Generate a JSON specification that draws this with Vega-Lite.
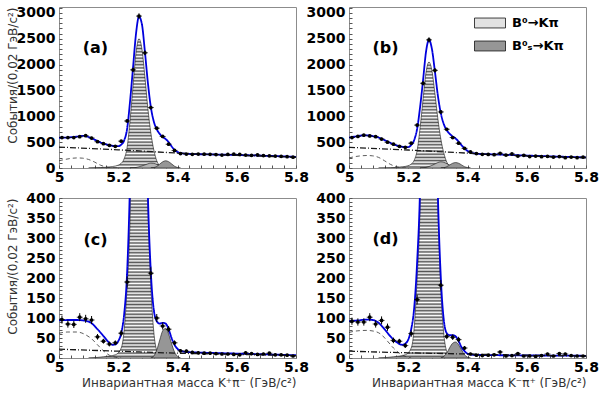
{
"$schema": "https://vega.github.io/schema/vega-lite/v6.json",
"padding": {"left": 5, "top": 5, "right": 5, "bottom": 3},
"background": "white",
"columns": 2,
"spacing": {"row": 30, "column": 53},
"bounds": "flush",
"datasets": {
"pts": [
{"p":"a","m":5.01,"v":590,"e":24},{"p":"a","m":5.03,"v":590,"e":24},{"p":"a","m":5.05,"v":590,"e":24},{"p":"a","m":5.07,"v":605,"e":25},{"p":"a","m":5.09,"v":625,"e":25},{"p":"a","m":5.11,"v":580,"e":24},{"p":"a","m":5.13,"v":510,"e":23},{"p":"a","m":5.15,"v":470,"e":22},{"p":"a","m":5.17,"v":440,"e":21},{"p":"a","m":5.19,"v":420,"e":20},{"p":"a","m":5.21,"v":520,"e":23},{"p":"a","m":5.23,"v":910,"e":30},{"p":"a","m":5.25,"v":1900,"e":44},{"p":"a","m":5.27,"v":2940,"e":54},{"p":"a","m":5.29,"v":2230,"e":47},{"p":"a","m":5.31,"v":1170,"e":34},{"p":"a","m":5.33,"v":770,"e":28},{"p":"a","m":5.35,"v":610,"e":25},{"p":"a","m":5.37,"v":460,"e":21},{"p":"a","m":5.39,"v":340,"e":18},{"p":"a","m":5.41,"v":280,"e":17},{"p":"a","m":5.43,"v":270,"e":16},{"p":"a","m":5.45,"v":265,"e":16},{"p":"a","m":5.47,"v":270,"e":16},{"p":"a","m":5.49,"v":268,"e":16},{"p":"a","m":5.51,"v":265,"e":16},{"p":"a","m":5.53,"v":260,"e":16},{"p":"a","m":5.55,"v":250,"e":16},{"p":"a","m":5.57,"v":262,"e":16},{"p":"a","m":5.59,"v":268,"e":16},{"p":"a","m":5.61,"v":262,"e":16},{"p":"a","m":5.63,"v":250,"e":16},{"p":"a","m":5.65,"v":245,"e":16},{"p":"a","m":5.67,"v":255,"e":16},{"p":"a","m":5.69,"v":240,"e":15},{"p":"a","m":5.71,"v":235,"e":15},{"p":"a","m":5.73,"v":232,"e":15},{"p":"a","m":5.75,"v":225,"e":15},{"p":"a","m":5.77,"v":220,"e":15},{"p":"a","m":5.79,"v":210,"e":14},
{"p":"b","m":5.01,"v":590,"e":24},{"p":"b","m":5.03,"v":610,"e":25},{"p":"b","m":5.05,"v":635,"e":25},{"p":"b","m":5.07,"v":620,"e":25},{"p":"b","m":5.09,"v":605,"e":25},{"p":"b","m":5.11,"v":560,"e":24},{"p":"b","m":5.13,"v":500,"e":22},{"p":"b","m":5.15,"v":460,"e":21},{"p":"b","m":5.17,"v":420,"e":20},{"p":"b","m":5.19,"v":400,"e":20},{"p":"b","m":5.21,"v":480,"e":22},{"p":"b","m":5.23,"v":830,"e":29},{"p":"b","m":5.25,"v":1640,"e":40},{"p":"b","m":5.27,"v":2480,"e":50},{"p":"b","m":5.29,"v":1890,"e":43},{"p":"b","m":5.31,"v":1085,"e":33},{"p":"b","m":5.33,"v":750,"e":27},{"p":"b","m":5.35,"v":590,"e":24},{"p":"b","m":5.37,"v":480,"e":22},{"p":"b","m":5.39,"v":380,"e":19},{"p":"b","m":5.41,"v":310,"e":18},{"p":"b","m":5.43,"v":280,"e":17},{"p":"b","m":5.45,"v":265,"e":16},{"p":"b","m":5.47,"v":262,"e":16},{"p":"b","m":5.49,"v":258,"e":16},{"p":"b","m":5.51,"v":285,"e":17},{"p":"b","m":5.53,"v":250,"e":16},{"p":"b","m":5.55,"v":272,"e":16},{"p":"b","m":5.57,"v":232,"e":15},{"p":"b","m":5.59,"v":245,"e":16},{"p":"b","m":5.61,"v":222,"e":15},{"p":"b","m":5.63,"v":232,"e":15},{"p":"b","m":5.65,"v":220,"e":15},{"p":"b","m":5.67,"v":225,"e":15},{"p":"b","m":5.69,"v":212,"e":15},{"p":"b","m":5.71,"v":222,"e":15},{"p":"b","m":5.73,"v":200,"e":14},{"p":"b","m":5.75,"v":212,"e":15},{"p":"b","m":5.77,"v":200,"e":14},{"p":"b","m":5.79,"v":212,"e":15},
{"p":"c","m":5.01,"v":96,"e":10},{"p":"c","m":5.03,"v":85,"e":9},{"p":"c","m":5.05,"v":84,"e":9},{"p":"c","m":5.07,"v":102,"e":10},{"p":"c","m":5.09,"v":98,"e":10},{"p":"c","m":5.11,"v":95,"e":10},{"p":"c","m":5.13,"v":53,"e":7},{"p":"c","m":5.15,"v":42,"e":6},{"p":"c","m":5.17,"v":35,"e":6},{"p":"c","m":5.19,"v":38,"e":6},{"p":"c","m":5.21,"v":62,"e":8},{"p":"c","m":5.23,"v":190,"e":14},{"p":"c","m":5.25,"v":1000,"e":32},{"p":"c","m":5.27,"v":1450,"e":38},{"p":"c","m":5.29,"v":950,"e":31},{"p":"c","m":5.31,"v":212,"e":15},{"p":"c","m":5.33,"v":100,"e":10},{"p":"c","m":5.35,"v":80,"e":9},{"p":"c","m":5.37,"v":72,"e":8},{"p":"c","m":5.39,"v":38,"e":6},{"p":"c","m":5.41,"v":18,"e":4},{"p":"c","m":5.43,"v":17,"e":4},{"p":"c","m":5.45,"v":14,"e":4},{"p":"c","m":5.47,"v":13,"e":4},{"p":"c","m":5.49,"v":12,"e":3},{"p":"c","m":5.51,"v":12,"e":3},{"p":"c","m":5.53,"v":11,"e":3},{"p":"c","m":5.55,"v":10,"e":3},{"p":"c","m":5.57,"v":10,"e":3},{"p":"c","m":5.59,"v":9,"e":3},{"p":"c","m":5.61,"v":8,"e":3},{"p":"c","m":5.63,"v":13,"e":4},{"p":"c","m":5.65,"v":11,"e":3},{"p":"c","m":5.67,"v":9,"e":3},{"p":"c","m":5.69,"v":10,"e":3},{"p":"c","m":5.71,"v":12,"e":3},{"p":"c","m":5.73,"v":8,"e":3},{"p":"c","m":5.75,"v":8,"e":3},{"p":"c","m":5.77,"v":7,"e":3},{"p":"c","m":5.79,"v":5,"e":2},
{"p":"d","m":5.01,"v":92,"e":9},{"p":"d","m":5.03,"v":90,"e":9},{"p":"d","m":5.05,"v":90,"e":9},{"p":"d","m":5.07,"v":102,"e":10},{"p":"d","m":5.09,"v":85,"e":9},{"p":"d","m":5.11,"v":94,"e":10},{"p":"d","m":5.13,"v":77,"e":9},{"p":"d","m":5.15,"v":44,"e":7},{"p":"d","m":5.17,"v":42,"e":6},{"p":"d","m":5.19,"v":31,"e":6},{"p":"d","m":5.21,"v":61,"e":8},{"p":"d","m":5.23,"v":146,"e":12},{"p":"d","m":5.25,"v":800,"e":28},{"p":"d","m":5.27,"v":1350,"e":37},{"p":"d","m":5.29,"v":900,"e":30},{"p":"d","m":5.31,"v":182,"e":13},{"p":"d","m":5.33,"v":54,"e":7},{"p":"d","m":5.35,"v":52,"e":7},{"p":"d","m":5.37,"v":46,"e":7},{"p":"d","m":5.39,"v":25,"e":5},{"p":"d","m":5.41,"v":10,"e":3},{"p":"d","m":5.43,"v":7,"e":3},{"p":"d","m":5.45,"v":6,"e":2},{"p":"d","m":5.47,"v":7,"e":3},{"p":"d","m":5.49,"v":8,"e":3},{"p":"d","m":5.51,"v":15,"e":4},{"p":"d","m":5.53,"v":5,"e":2},{"p":"d","m":5.55,"v":6,"e":2},{"p":"d","m":5.57,"v":11,"e":3},{"p":"d","m":5.59,"v":5,"e":2},{"p":"d","m":5.61,"v":5,"e":2},{"p":"d","m":5.63,"v":4,"e":2},{"p":"d","m":5.65,"v":6,"e":2},{"p":"d","m":5.67,"v":10,"e":3},{"p":"d","m":5.69,"v":5,"e":2},{"p":"d","m":5.71,"v":11,"e":3},{"p":"d","m":5.73,"v":10,"e":3},{"p":"d","m":5.75,"v":6,"e":2},{"p":"d","m":5.77,"v":5,"e":2},{"p":"d","m":5.79,"v":5,"e":2}
],
"cur": [
{"p":"a","c":"fit","m":5.00,"v":585},{"p":"a","c":"fit","m":5.02,"v":588},{"p":"a","c":"fit","m":5.04,"v":595},{"p":"a","c":"fit","m":5.06,"v":608},{"p":"a","c":"fit","m":5.08,"v":622},{"p":"a","c":"fit","m":5.10,"v":600},{"p":"a","c":"fit","m":5.12,"v":550},{"p":"a","c":"fit","m":5.14,"v":495},{"p":"a","c":"fit","m":5.16,"v":458},{"p":"a","c":"fit","m":5.18,"v":430},{"p":"a","c":"fit","m":5.20,"v":422},{"p":"a","c":"fit","m":5.21,"v":452},{"p":"a","c":"fit","m":5.22,"v":535},{"p":"a","c":"fit","m":5.23,"v":760},{"p":"a","c":"fit","m":5.24,"v":1300},{"p":"a","c":"fit","m":5.25,"v":1950},{"p":"a","c":"fit","m":5.26,"v":2600},{"p":"a","c":"fit","m":5.27,"v":2930},{"p":"a","c":"fit","m":5.28,"v":2780},{"p":"a","c":"fit","m":5.29,"v":2250},{"p":"a","c":"fit","m":5.30,"v":1650},{"p":"a","c":"fit","m":5.31,"v":1180},{"p":"a","c":"fit","m":5.32,"v":900},{"p":"a","c":"fit","m":5.33,"v":750},{"p":"a","c":"fit","m":5.34,"v":660},{"p":"a","c":"fit","m":5.35,"v":600},{"p":"a","c":"fit","m":5.36,"v":560},{"p":"a","c":"fit","m":5.37,"v":500},{"p":"a","c":"fit","m":5.38,"v":420},{"p":"a","c":"fit","m":5.39,"v":350},{"p":"a","c":"fit","m":5.40,"v":310},{"p":"a","c":"fit","m":5.41,"v":290},{"p":"a","c":"fit","m":5.42,"v":280},{"p":"a","c":"fit","m":5.45,"v":270},{"p":"a","c":"fit","m":5.50,"v":264},{"p":"a","c":"fit","m":5.55,"v":258},{"p":"a","c":"fit","m":5.60,"v":252},{"p":"a","c":"fit","m":5.65,"v":245},{"p":"a","c":"fit","m":5.70,"v":236},{"p":"a","c":"fit","m":5.75,"v":226},{"p":"a","c":"fit","m":5.80,"v":215},
{"p":"a","c":"comb","m":5.0,"v":405},{"p":"a","c":"comb","m":5.2,"v":352},{"p":"a","c":"comb","m":5.4,"v":290},{"p":"a","c":"comb","m":5.6,"v":245},{"p":"a","c":"comb","m":5.8,"v":208},
{"p":"a","c":"part","m":5.00,"v":140},{"p":"a","c":"part","m":5.02,"v":165},{"p":"a","c":"part","m":5.04,"v":185},{"p":"a","c":"part","m":5.06,"v":195},{"p":"a","c":"part","m":5.08,"v":190},{"p":"a","c":"part","m":5.10,"v":165},{"p":"a","c":"part","m":5.12,"v":115},{"p":"a","c":"part","m":5.14,"v":55},{"p":"a","c":"part","m":5.16,"v":18},{"p":"a","c":"part","m":5.18,"v":3},{"p":"a","c":"part","m":5.20,"v":0},
{"p":"a","c":"b0","m":5.10,"v":0},{"p":"a","c":"b0","m":5.14,"v":8},{"p":"a","c":"b0","m":5.18,"v":28},{"p":"a","c":"b0","m":5.20,"v":55},{"p":"a","c":"b0","m":5.21,"v":90},{"p":"a","c":"b0","m":5.22,"v":180},{"p":"a","c":"b0","m":5.23,"v":400},{"p":"a","c":"b0","m":5.24,"v":930},{"p":"a","c":"b0","m":5.25,"v":1590},{"p":"a","c":"b0","m":5.26,"v":2230},{"p":"a","c":"b0","m":5.27,"v":2500},{"p":"a","c":"b0","m":5.28,"v":2300},{"p":"a","c":"b0","m":5.29,"v":1760},{"p":"a","c":"b0","m":5.30,"v":1150},{"p":"a","c":"b0","m":5.31,"v":680},{"p":"a","c":"b0","m":5.32,"v":350},{"p":"a","c":"b0","m":5.33,"v":140},{"p":"a","c":"b0","m":5.34,"v":45},{"p":"a","c":"b0","m":5.35,"v":12},{"p":"a","c":"b0","m":5.36,"v":2},{"p":"a","c":"b0","m":5.37,"v":0},
{"p":"a","c":"oth","m":5.24,"v":0},{"p":"a","c":"oth","m":5.26,"v":10},{"p":"a","c":"oth","m":5.28,"v":40},{"p":"a","c":"oth","m":5.30,"v":80},{"p":"a","c":"oth","m":5.31,"v":95},{"p":"a","c":"oth","m":5.32,"v":90},{"p":"a","c":"oth","m":5.33,"v":70},{"p":"a","c":"oth","m":5.34,"v":45},{"p":"a","c":"oth","m":5.35,"v":22},{"p":"a","c":"oth","m":5.36,"v":8},{"p":"a","c":"oth","m":5.37,"v":0},
{"p":"a","c":"bs","m":5.31,"v":0},{"p":"a","c":"bs","m":5.32,"v":8},{"p":"a","c":"bs","m":5.33,"v":30},{"p":"a","c":"bs","m":5.34,"v":75},{"p":"a","c":"bs","m":5.35,"v":120},{"p":"a","c":"bs","m":5.36,"v":140},{"p":"a","c":"bs","m":5.37,"v":122},{"p":"a","c":"bs","m":5.38,"v":80},{"p":"a","c":"bs","m":5.39,"v":35},{"p":"a","c":"bs","m":5.40,"v":10},{"p":"a","c":"bs","m":5.41,"v":0},
{"p":"b","c":"fit","m":5.00,"v":588},{"p":"b","c":"fit","m":5.02,"v":608},{"p":"b","c":"fit","m":5.04,"v":628},{"p":"b","c":"fit","m":5.06,"v":632},{"p":"b","c":"fit","m":5.08,"v":618},{"p":"b","c":"fit","m":5.10,"v":590},{"p":"b","c":"fit","m":5.12,"v":540},{"p":"b","c":"fit","m":5.14,"v":485},{"p":"b","c":"fit","m":5.16,"v":440},{"p":"b","c":"fit","m":5.18,"v":410},{"p":"b","c":"fit","m":5.20,"v":405},{"p":"b","c":"fit","m":5.21,"v":445},{"p":"b","c":"fit","m":5.22,"v":540},{"p":"b","c":"fit","m":5.23,"v":760},{"p":"b","c":"fit","m":5.24,"v":1180},{"p":"b","c":"fit","m":5.25,"v":1700},{"p":"b","c":"fit","m":5.26,"v":2250},{"p":"b","c":"fit","m":5.27,"v":2480},{"p":"b","c":"fit","m":5.28,"v":2300},{"p":"b","c":"fit","m":5.29,"v":1870},{"p":"b","c":"fit","m":5.30,"v":1400},{"p":"b","c":"fit","m":5.31,"v":1060},{"p":"b","c":"fit","m":5.32,"v":850},{"p":"b","c":"fit","m":5.33,"v":730},{"p":"b","c":"fit","m":5.34,"v":660},{"p":"b","c":"fit","m":5.35,"v":610},{"p":"b","c":"fit","m":5.36,"v":570},{"p":"b","c":"fit","m":5.37,"v":510},{"p":"b","c":"fit","m":5.38,"v":440},{"p":"b","c":"fit","m":5.39,"v":380},{"p":"b","c":"fit","m":5.40,"v":330},{"p":"b","c":"fit","m":5.41,"v":300},{"p":"b","c":"fit","m":5.42,"v":285},{"p":"b","c":"fit","m":5.45,"v":272},{"p":"b","c":"fit","m":5.50,"v":262},{"p":"b","c":"fit","m":5.55,"v":252},{"p":"b","c":"fit","m":5.60,"v":241},{"p":"b","c":"fit","m":5.65,"v":231},{"p":"b","c":"fit","m":5.70,"v":222},{"p":"b","c":"fit","m":5.75,"v":213},{"p":"b","c":"fit","m":5.80,"v":205},
{"p":"b","c":"comb","m":5.0,"v":400},{"p":"b","c":"comb","m":5.2,"v":348},{"p":"b","c":"comb","m":5.4,"v":288},{"p":"b","c":"comb","m":5.6,"v":236},{"p":"b","c":"comb","m":5.8,"v":198},
{"p":"b","c":"part","m":5.00,"v":195},{"p":"b","c":"part","m":5.02,"v":220},{"p":"b","c":"part","m":5.04,"v":235},{"p":"b","c":"part","m":5.06,"v":242},{"p":"b","c":"part","m":5.08,"v":235},{"p":"b","c":"part","m":5.10,"v":205},{"p":"b","c":"part","m":5.12,"v":140},{"p":"b","c":"part","m":5.14,"v":70},{"p":"b","c":"part","m":5.16,"v":25},{"p":"b","c":"part","m":5.18,"v":5},{"p":"b","c":"part","m":5.20,"v":0},
{"p":"b","c":"b0","m":5.10,"v":0},{"p":"b","c":"b0","m":5.14,"v":6},{"p":"b","c":"b0","m":5.18,"v":23},{"p":"b","c":"b0","m":5.20,"v":45},{"p":"b","c":"b0","m":5.21,"v":75},{"p":"b","c":"b0","m":5.22,"v":150},{"p":"b","c":"b0","m":5.23,"v":340},{"p":"b","c":"b0","m":5.24,"v":780},{"p":"b","c":"b0","m":5.25,"v":1330},{"p":"b","c":"b0","m":5.26,"v":1850},{"p":"b","c":"b0","m":5.27,"v":2050},{"p":"b","c":"b0","m":5.28,"v":1880},{"p":"b","c":"b0","m":5.29,"v":1440},{"p":"b","c":"b0","m":5.30,"v":950},{"p":"b","c":"b0","m":5.31,"v":560},{"p":"b","c":"b0","m":5.32,"v":290},{"p":"b","c":"b0","m":5.33,"v":115},{"p":"b","c":"b0","m":5.34,"v":38},{"p":"b","c":"b0","m":5.35,"v":10},{"p":"b","c":"b0","m":5.36,"v":2},{"p":"b","c":"b0","m":5.37,"v":0},
{"p":"b","c":"oth","m":5.24,"v":0},{"p":"b","c":"oth","m":5.26,"v":12},{"p":"b","c":"oth","m":5.28,"v":50},{"p":"b","c":"oth","m":5.30,"v":105},{"p":"b","c":"oth","m":5.31,"v":120},{"p":"b","c":"oth","m":5.32,"v":110},{"p":"b","c":"oth","m":5.33,"v":85},{"p":"b","c":"oth","m":5.34,"v":55},{"p":"b","c":"oth","m":5.35,"v":25},{"p":"b","c":"oth","m":5.36,"v":8},{"p":"b","c":"oth","m":5.37,"v":0},
{"p":"b","c":"bs","m":5.31,"v":0},{"p":"b","c":"bs","m":5.32,"v":6},{"p":"b","c":"bs","m":5.33,"v":25},{"p":"b","c":"bs","m":5.34,"v":60},{"p":"b","c":"bs","m":5.35,"v":92},{"p":"b","c":"bs","m":5.36,"v":105},{"p":"b","c":"bs","m":5.37,"v":92},{"p":"b","c":"bs","m":5.38,"v":60},{"p":"b","c":"bs","m":5.39,"v":26},{"p":"b","c":"bs","m":5.40,"v":8},{"p":"b","c":"bs","m":5.41,"v":0},
{"p":"c","c":"fit","m":5.00,"v":94},{"p":"c","c":"fit","m":5.03,"v":95},{"p":"c","c":"fit","m":5.06,"v":95},{"p":"c","c":"fit","m":5.09,"v":93},{"p":"c","c":"fit","m":5.11,"v":87},{"p":"c","c":"fit","m":5.13,"v":72},{"p":"c","c":"fit","m":5.15,"v":55},{"p":"c","c":"fit","m":5.17,"v":38},{"p":"c","c":"fit","m":5.18,"v":33},{"p":"c","c":"fit","m":5.19,"v":34},{"p":"c","c":"fit","m":5.20,"v":42},{"p":"c","c":"fit","m":5.21,"v":62},{"p":"c","c":"fit","m":5.22,"v":110},{"p":"c","c":"fit","m":5.23,"v":215},{"p":"c","c":"fit","m":5.24,"v":450},{"p":"c","c":"fit","m":5.25,"v":850},{"p":"c","c":"fit","m":5.26,"v":1250},{"p":"c","c":"fit","m":5.27,"v":1420},{"p":"c","c":"fit","m":5.28,"v":1250},{"p":"c","c":"fit","m":5.29,"v":780},{"p":"c","c":"fit","m":5.30,"v":410},{"p":"c","c":"fit","m":5.31,"v":215},{"p":"c","c":"fit","m":5.32,"v":120},{"p":"c","c":"fit","m":5.33,"v":92},{"p":"c","c":"fit","m":5.34,"v":86},{"p":"c","c":"fit","m":5.35,"v":88},{"p":"c","c":"fit","m":5.36,"v":86},{"p":"c","c":"fit","m":5.37,"v":72},{"p":"c","c":"fit","m":5.38,"v":50},{"p":"c","c":"fit","m":5.39,"v":33},{"p":"c","c":"fit","m":5.40,"v":23},{"p":"c","c":"fit","m":5.41,"v":18},{"p":"c","c":"fit","m":5.43,"v":15},{"p":"c","c":"fit","m":5.50,"v":13},{"p":"c","c":"fit","m":5.60,"v":11},{"p":"c","c":"fit","m":5.70,"v":9},{"p":"c","c":"fit","m":5.80,"v":7},
{"p":"c","c":"comb","m":5.0,"v":22},{"p":"c","c":"comb","m":5.2,"v":17},{"p":"c","c":"comb","m":5.4,"v":12},{"p":"c","c":"comb","m":5.6,"v":9},{"p":"c","c":"comb","m":5.8,"v":6},
{"p":"c","c":"part","m":5.00,"v":62},{"p":"c","c":"part","m":5.03,"v":65},{"p":"c","c":"part","m":5.06,"v":65},{"p":"c","c":"part","m":5.09,"v":58},{"p":"c","c":"part","m":5.11,"v":48},{"p":"c","c":"part","m":5.13,"v":33},{"p":"c","c":"part","m":5.15,"v":18},{"p":"c","c":"part","m":5.17,"v":7},{"p":"c","c":"part","m":5.19,"v":2},{"p":"c","c":"part","m":5.21,"v":0},
{"p":"c","c":"b0","m":5.10,"v":0},{"p":"c","c":"b0","m":5.15,"v":3},{"p":"c","c":"b0","m":5.19,"v":8},{"p":"c","c":"b0","m":5.21,"v":25},{"p":"c","c":"b0","m":5.22,"v":70},{"p":"c","c":"b0","m":5.23,"v":180},{"p":"c","c":"b0","m":5.24,"v":350},{"p":"c","c":"b0","m":5.25,"v":750},{"p":"c","c":"b0","m":5.26,"v":1150},{"p":"c","c":"b0","m":5.27,"v":1350},{"p":"c","c":"b0","m":5.28,"v":1150},{"p":"c","c":"b0","m":5.29,"v":750},{"p":"c","c":"b0","m":5.30,"v":390},{"p":"c","c":"b0","m":5.31,"v":180},{"p":"c","c":"b0","m":5.32,"v":65},{"p":"c","c":"b0","m":5.33,"v":18},{"p":"c","c":"b0","m":5.34,"v":4},{"p":"c","c":"b0","m":5.35,"v":0},
{"p":"c","c":"bs","m":5.31,"v":0},{"p":"c","c":"bs","m":5.32,"v":5},{"p":"c","c":"bs","m":5.33,"v":20},{"p":"c","c":"bs","m":5.34,"v":45},{"p":"c","c":"bs","m":5.35,"v":68},{"p":"c","c":"bs","m":5.36,"v":74},{"p":"c","c":"bs","m":5.37,"v":60},{"p":"c","c":"bs","m":5.38,"v":36},{"p":"c","c":"bs","m":5.39,"v":15},{"p":"c","c":"bs","m":5.40,"v":4},{"p":"c","c":"bs","m":5.41,"v":0},
{"p":"d","c":"fit","m":5.00,"v":92},{"p":"d","c":"fit","m":5.03,"v":94},{"p":"d","c":"fit","m":5.06,"v":96},{"p":"d","c":"fit","m":5.08,"v":95},{"p":"d","c":"fit","m":5.10,"v":88},{"p":"d","c":"fit","m":5.12,"v":72},{"p":"d","c":"fit","m":5.14,"v":54},{"p":"d","c":"fit","m":5.16,"v":40},{"p":"d","c":"fit","m":5.18,"v":33},{"p":"d","c":"fit","m":5.19,"v":36},{"p":"d","c":"fit","m":5.20,"v":46},{"p":"d","c":"fit","m":5.21,"v":72},{"p":"d","c":"fit","m":5.22,"v":125},{"p":"d","c":"fit","m":5.23,"v":240},{"p":"d","c":"fit","m":5.24,"v":430},{"p":"d","c":"fit","m":5.25,"v":850},{"p":"d","c":"fit","m":5.26,"v":1250},{"p":"d","c":"fit","m":5.27,"v":1400},{"p":"d","c":"fit","m":5.28,"v":1250},{"p":"d","c":"fit","m":5.29,"v":800},{"p":"d","c":"fit","m":5.30,"v":410},{"p":"d","c":"fit","m":5.31,"v":200},{"p":"d","c":"fit","m":5.32,"v":95},{"p":"d","c":"fit","m":5.33,"v":62},{"p":"d","c":"fit","m":5.34,"v":57},{"p":"d","c":"fit","m":5.35,"v":57},{"p":"d","c":"fit","m":5.36,"v":54},{"p":"d","c":"fit","m":5.37,"v":42},{"p":"d","c":"fit","m":5.38,"v":27},{"p":"d","c":"fit","m":5.39,"v":17},{"p":"d","c":"fit","m":5.40,"v":11},{"p":"d","c":"fit","m":5.42,"v":8},{"p":"d","c":"fit","m":5.50,"v":7},{"p":"d","c":"fit","m":5.60,"v":6.5},{"p":"d","c":"fit","m":5.70,"v":6},{"p":"d","c":"fit","m":5.80,"v":5.5},
{"p":"d","c":"comb","m":5.0,"v":17},{"p":"d","c":"comb","m":5.2,"v":13},{"p":"d","c":"comb","m":5.4,"v":10},{"p":"d","c":"comb","m":5.6,"v":7},{"p":"d","c":"comb","m":5.8,"v":5},
{"p":"d","c":"part","m":5.00,"v":64},{"p":"d","c":"part","m":5.03,"v":68},{"p":"d","c":"part","m":5.06,"v":69},{"p":"d","c":"part","m":5.09,"v":66},{"p":"d","c":"part","m":5.11,"v":58},{"p":"d","c":"part","m":5.13,"v":42},{"p":"d","c":"part","m":5.15,"v":25},{"p":"d","c":"part","m":5.17,"v":12},{"p":"d","c":"part","m":5.19,"v":4},{"p":"d","c":"part","m":5.21,"v":0},
{"p":"d","c":"b0","m":5.10,"v":0},{"p":"d","c":"b0","m":5.15,"v":3},{"p":"d","c":"b0","m":5.19,"v":8},{"p":"d","c":"b0","m":5.21,"v":25},{"p":"d","c":"b0","m":5.22,"v":75},{"p":"d","c":"b0","m":5.23,"v":200},{"p":"d","c":"b0","m":5.24,"v":380},{"p":"d","c":"b0","m":5.25,"v":780},{"p":"d","c":"b0","m":5.26,"v":1180},{"p":"d","c":"b0","m":5.27,"v":1360},{"p":"d","c":"b0","m":5.28,"v":1180},{"p":"d","c":"b0","m":5.29,"v":760},{"p":"d","c":"b0","m":5.30,"v":390},{"p":"d","c":"b0","m":5.31,"v":170},{"p":"d","c":"b0","m":5.32,"v":60},{"p":"d","c":"b0","m":5.33,"v":16},{"p":"d","c":"b0","m":5.34,"v":4},{"p":"d","c":"b0","m":5.35,"v":0},
{"p":"d","c":"bs","m":5.31,"v":0},{"p":"d","c":"bs","m":5.32,"v":4},{"p":"d","c":"bs","m":5.33,"v":12},{"p":"d","c":"bs","m":5.34,"v":26},{"p":"d","c":"bs","m":5.35,"v":37},{"p":"d","c":"bs","m":5.36,"v":40},{"p":"d","c":"bs","m":5.37,"v":33},{"p":"d","c":"bs","m":5.38,"v":20},{"p":"d","c":"bs","m":5.39,"v":8},{"p":"d","c":"bs","m":5.40,"v":2},{"p":"d","c":"bs","m":5.41,"v":0}
],
"lab": [
{"p":"a","t":"(a)","m":5.123,"v":2320},{"p":"b","t":"(b)","m":5.123,"v":2320},{"p":"c","t":"(c)","m":5.123,"v":295},{"p":"d","t":"(d)","m":5.123,"v":297}
]
},
"concat": [
{
"width": 237, "height": 161,
"encoding": {
"x": {"field":"m","type":"quantitative","scale":{"domain":[5,5.8],"nice":false,"zero":false,"padding":0},"axis":{"values":[5,5.04,5.08,5.12,5.16,5.2,5.24,5.28,5.32,5.36,5.4,5.44,5.48,5.52,5.56,5.6,5.64,5.68,5.72,5.76,5.8],"format":"~g","labelExpr":"abs(datum.value*5-round(datum.value*5))<0.001 ? datum.label : ''","title":null}},
"y": {"field":"v","type":"quantitative","stack":null,"scale":{"domain":[0,3116],"nice":false,"padding":0},"axis":{"values":[0,100,200,300,400,500,600,700,800,900,1000,1100,1200,1300,1400,1500,1600,1700,1800,1900,2000,2100,2200,2300,2400,2500,2600,2700,2800,2900,3000,3100],"format":"d","labelExpr":"datum.value % 500 == 0 ? datum.label : ''","title":"События/(0,02 ГэВ/c²)","titleAnchor":"end","titlePadding":2,"minExtent":38,"maxExtent":38}}
},
"layer": [
{"data":{"name":"cur"},"transform":[{"filter":"datum.p=='a' && datum.c=='b0'"}],"mark":{"type":"area","interpolate":"monotone","stroke":"#111111","strokeWidth":0.6,"opacity":1,"clip":true,
 "fill":{"gradient":"linear","x1":0,"y1":0,"x2":0,"y2":1,"stops":[{"offset":0,"color":"#555555"},{"offset":0.0125,"color":"#ffffff"},{"offset":0.025,"color":"#555555"},{"offset":0.0375,"color":"#ffffff"},{"offset":0.05,"color":"#555555"},{"offset":0.0625,"color":"#ffffff"},{"offset":0.075,"color":"#555555"},{"offset":0.0875,"color":"#ffffff"},{"offset":0.1,"color":"#555555"},{"offset":0.1125,"color":"#ffffff"},{"offset":0.125,"color":"#555555"},{"offset":0.1375,"color":"#ffffff"},{"offset":0.15,"color":"#555555"},{"offset":0.1625,"color":"#ffffff"},{"offset":0.175,"color":"#555555"},{"offset":0.1875,"color":"#ffffff"},{"offset":0.2,"color":"#555555"},{"offset":0.2125,"color":"#ffffff"},{"offset":0.225,"color":"#555555"},{"offset":0.2375,"color":"#ffffff"},{"offset":0.25,"color":"#555555"},{"offset":0.2625,"color":"#ffffff"},{"offset":0.275,"color":"#555555"},{"offset":0.2875,"color":"#ffffff"},{"offset":0.3,"color":"#555555"},{"offset":0.3125,"color":"#ffffff"},{"offset":0.325,"color":"#555555"},{"offset":0.3375,"color":"#ffffff"},{"offset":0.35,"color":"#555555"},{"offset":0.3625,"color":"#ffffff"},{"offset":0.375,"color":"#555555"},{"offset":0.3875,"color":"#ffffff"},{"offset":0.4,"color":"#555555"},{"offset":0.4125,"color":"#ffffff"},{"offset":0.425,"color":"#555555"},{"offset":0.4375,"color":"#ffffff"},{"offset":0.45,"color":"#555555"},{"offset":0.4625,"color":"#ffffff"},{"offset":0.475,"color":"#555555"},{"offset":0.4875,"color":"#ffffff"},{"offset":0.5,"color":"#555555"},{"offset":0.5125,"color":"#ffffff"},{"offset":0.525,"color":"#555555"},{"offset":0.5375,"color":"#ffffff"},{"offset":0.55,"color":"#555555"},{"offset":0.5625,"color":"#ffffff"},{"offset":0.575,"color":"#555555"},{"offset":0.5875,"color":"#ffffff"},{"offset":0.6,"color":"#555555"},{"offset":0.6125,"color":"#ffffff"},{"offset":0.625,"color":"#555555"},{"offset":0.6375,"color":"#ffffff"},{"offset":0.65,"color":"#555555"},{"offset":0.6625,"color":"#ffffff"},{"offset":0.675,"color":"#555555"},{"offset":0.6875,"color":"#ffffff"},{"offset":0.7,"color":"#555555"},{"offset":0.7125,"color":"#ffffff"},{"offset":0.725,"color":"#555555"},{"offset":0.7375,"color":"#ffffff"},{"offset":0.75,"color":"#555555"},{"offset":0.7625,"color":"#ffffff"},{"offset":0.775,"color":"#555555"},{"offset":0.7875,"color":"#ffffff"},{"offset":0.8,"color":"#555555"},{"offset":0.8125,"color":"#ffffff"},{"offset":0.825,"color":"#555555"},{"offset":0.8375,"color":"#ffffff"},{"offset":0.85,"color":"#555555"},{"offset":0.8625,"color":"#ffffff"},{"offset":0.875,"color":"#555555"},{"offset":0.8875,"color":"#ffffff"},{"offset":0.9,"color":"#555555"},{"offset":0.9125,"color":"#ffffff"},{"offset":0.925,"color":"#555555"},{"offset":0.9375,"color":"#ffffff"},{"offset":0.95,"color":"#555555"},{"offset":0.9625,"color":"#ffffff"},{"offset":0.975,"color":"#555555"},{"offset":0.9875,"color":"#ffffff"},{"offset":1,"color":"#555555"}]}},"encoding":{}},
{"data":{"name":"cur"},"transform":[{"filter":"datum.p=='a' && (datum.c=='oth' || datum.c=='bs')"}],"mark":{"type":"area","interpolate":"monotone","stroke":"#111111","strokeWidth":0.6,"opacity":1,"clip":true},
 "encoding":{"fill":{"field":"c","type":"nominal","scale":{"domain":["b0","oth","bs"],"range":["#e2e2e2","#b4b4b4","#969696"]},"legend":{"orient":"none","legendX":415,"legendY":0,"title":null,"values":["b0","bs"],"labelExpr":"datum.value=='b0' ? 'B⁰→Kπ' : 'B⁰ₛ→Kπ'","symbolType":"M-1,-0.32H1V0.32H-1Z","symbolSize":961,"symbolStrokeColor":"#111111","symbolStrokeWidth":0.8,"labelFont":"DejaVu Sans","labelFontWeight":"bold","labelFontSize":13,"labelColor":"black","rowPadding":-14,"labelOffset":6,"padding":0}}}},
{"data":{"name":"cur"},"transform":[{"filter":"datum.p=='a' && (datum.c=='fit' || datum.c=='comb' || datum.c=='part')"}],"mark":{"type":"line","interpolate":"monotone","clip":true},
 "encoding":{"stroke":{"field":"c","type":"nominal","scale":{"domain":["fit","comb","part"],"range":["#0000dd","#1a1a1a","#333333"]},"legend":null},"strokeDash":{"field":"c","type":"nominal","scale":{"domain":["fit","comb","part"],"range":[[1,0],[6,2,1,2],[4,3]]},"legend":null},"strokeWidth":{"field":"c","type":"nominal","scale":{"domain":["fit","comb","part"],"range":[1.8,0.8,0.8]},"legend":null}}},
{"data":{"name":"pts"},"transform":[{"filter":"datum.p=='a'"}],"mark":{"type":"errorbar","color":"black","thickness":1,"clip":true},"encoding":{"yError":{"field":"e"}}},
{"data":{"name":"pts"},"transform":[{"filter":"datum.p=='a'"}],"mark":{"type":"tick","orient":"horizontal","color":"black","size":6,"thickness":1,"clip":true},"encoding":{}},
{"data":{"name":"pts"},"transform":[{"filter":"datum.p=='a'"}],"mark":{"type":"point","filled":true,"color":"black","size":14,"opacity":1,"clip":true},"encoding":{}},
{"data":{"name":"lab"},"transform":[{"filter":"datum.p=='a'"}],"mark":{"type":"text","font":"DejaVu Sans","fontWeight":"bold","fontSize":16,"color":"black"},"encoding":{"text":{"field":"t"}}}
]
},
{
"width": 237, "height": 161,
"encoding": {
"x": {"field":"m","type":"quantitative","scale":{"domain":[5,5.8],"nice":false,"zero":false,"padding":0},"axis":{"values":[5,5.04,5.08,5.12,5.16,5.2,5.24,5.28,5.32,5.36,5.4,5.44,5.48,5.52,5.56,5.6,5.64,5.68,5.72,5.76,5.8],"format":"~g","labelExpr":"abs(datum.value*5-round(datum.value*5))<0.001 ? datum.label : ''","title":null}},
"y": {"field":"v","type":"quantitative","stack":null,"scale":{"domain":[0,3116],"nice":false,"padding":0},"axis":{"values":[0,100,200,300,400,500,600,700,800,900,1000,1100,1200,1300,1400,1500,1600,1700,1800,1900,2000,2100,2200,2300,2400,2500,2600,2700,2800,2900,3000,3100],"format":"d","labelExpr":"datum.value % 500 == 0 ? datum.label : ''","title":null}}
},
"layer": [
{"data":{"name":"cur"},"transform":[{"filter":"datum.p=='b' && datum.c=='b0'"}],"mark":{"type":"area","interpolate":"monotone","stroke":"#111111","strokeWidth":0.6,"opacity":1,"clip":true,
 "fill":{"gradient":"linear","x1":0,"y1":0,"x2":0,"y2":1,"stops":[{"offset":0,"color":"#555555"},{"offset":0.015,"color":"#ffffff"},{"offset":0.03,"color":"#555555"},{"offset":0.045,"color":"#ffffff"},{"offset":0.06,"color":"#555555"},{"offset":0.075,"color":"#ffffff"},{"offset":0.09,"color":"#555555"},{"offset":0.105,"color":"#ffffff"},{"offset":0.12,"color":"#555555"},{"offset":0.135,"color":"#ffffff"},{"offset":0.15,"color":"#555555"},{"offset":0.165,"color":"#ffffff"},{"offset":0.18,"color":"#555555"},{"offset":0.195,"color":"#ffffff"},{"offset":0.21,"color":"#555555"},{"offset":0.225,"color":"#ffffff"},{"offset":0.24,"color":"#555555"},{"offset":0.255,"color":"#ffffff"},{"offset":0.27,"color":"#555555"},{"offset":0.285,"color":"#ffffff"},{"offset":0.3,"color":"#555555"},{"offset":0.315,"color":"#ffffff"},{"offset":0.33,"color":"#555555"},{"offset":0.345,"color":"#ffffff"},{"offset":0.36,"color":"#555555"},{"offset":0.375,"color":"#ffffff"},{"offset":0.39,"color":"#555555"},{"offset":0.405,"color":"#ffffff"},{"offset":0.42,"color":"#555555"},{"offset":0.435,"color":"#ffffff"},{"offset":0.45,"color":"#555555"},{"offset":0.465,"color":"#ffffff"},{"offset":0.48,"color":"#555555"},{"offset":0.495,"color":"#ffffff"},{"offset":0.51,"color":"#555555"},{"offset":0.525,"color":"#ffffff"},{"offset":0.54,"color":"#555555"},{"offset":0.555,"color":"#ffffff"},{"offset":0.57,"color":"#555555"},{"offset":0.585,"color":"#ffffff"},{"offset":0.6,"color":"#555555"},{"offset":0.615,"color":"#ffffff"},{"offset":0.63,"color":"#555555"},{"offset":0.645,"color":"#ffffff"},{"offset":0.66,"color":"#555555"},{"offset":0.675,"color":"#ffffff"},{"offset":0.69,"color":"#555555"},{"offset":0.705,"color":"#ffffff"},{"offset":0.72,"color":"#555555"},{"offset":0.735,"color":"#ffffff"},{"offset":0.75,"color":"#555555"},{"offset":0.765,"color":"#ffffff"},{"offset":0.78,"color":"#555555"},{"offset":0.795,"color":"#ffffff"},{"offset":0.81,"color":"#555555"},{"offset":0.825,"color":"#ffffff"},{"offset":0.84,"color":"#555555"},{"offset":0.855,"color":"#ffffff"},{"offset":0.87,"color":"#555555"},{"offset":0.885,"color":"#ffffff"},{"offset":0.9,"color":"#555555"},{"offset":0.915,"color":"#ffffff"},{"offset":0.93,"color":"#555555"},{"offset":0.945,"color":"#ffffff"},{"offset":0.96,"color":"#555555"},{"offset":0.975,"color":"#ffffff"},{"offset":0.99,"color":"#555555"},{"offset":1,"color":"#ffffff"}]}},"encoding":{}},
{"data":{"name":"cur"},"transform":[{"filter":"datum.p=='b' && (datum.c=='oth' || datum.c=='bs')"}],"mark":{"type":"area","interpolate":"monotone","stroke":"#111111","strokeWidth":0.6,"opacity":1,"clip":true},
 "encoding":{"fill":{"field":"c","type":"nominal","scale":{"domain":["b0","oth","bs"],"range":["#e2e2e2","#b4b4b4","#969696"]},"legend":{"orient":"none","legendX":415,"legendY":0,"title":null,"values":["b0","bs"],"labelExpr":"datum.value=='b0' ? 'B⁰→Kπ' : 'B⁰ₛ→Kπ'","symbolType":"M-1,-0.32H1V0.32H-1Z","symbolSize":961,"symbolStrokeColor":"#111111","symbolStrokeWidth":0.8,"labelFont":"DejaVu Sans","labelFontWeight":"bold","labelFontSize":13,"labelColor":"black","rowPadding":-14,"labelOffset":6,"padding":0}}}},
{"data":{"name":"cur"},"transform":[{"filter":"datum.p=='b' && (datum.c=='fit' || datum.c=='comb' || datum.c=='part')"}],"mark":{"type":"line","interpolate":"monotone","clip":true},
 "encoding":{"stroke":{"field":"c","type":"nominal","scale":{"domain":["fit","comb","part"],"range":["#0000dd","#1a1a1a","#333333"]},"legend":null},"strokeDash":{"field":"c","type":"nominal","scale":{"domain":["fit","comb","part"],"range":[[1,0],[6,2,1,2],[4,3]]},"legend":null},"strokeWidth":{"field":"c","type":"nominal","scale":{"domain":["fit","comb","part"],"range":[1.8,0.8,0.8]},"legend":null}}},
{"data":{"name":"pts"},"transform":[{"filter":"datum.p=='b'"}],"mark":{"type":"errorbar","color":"black","thickness":1,"clip":true},"encoding":{"yError":{"field":"e"}}},
{"data":{"name":"pts"},"transform":[{"filter":"datum.p=='b'"}],"mark":{"type":"tick","orient":"horizontal","color":"black","size":6,"thickness":1,"clip":true},"encoding":{}},
{"data":{"name":"pts"},"transform":[{"filter":"datum.p=='b'"}],"mark":{"type":"point","filled":true,"color":"black","size":14,"opacity":1,"clip":true},"encoding":{}},
{"data":{"name":"lab"},"transform":[{"filter":"datum.p=='b'"}],"mark":{"type":"text","font":"DejaVu Sans","fontWeight":"bold","fontSize":16,"color":"black"},"encoding":{"text":{"field":"t"}}}
]
},
{
"width": 237, "height": 160,
"encoding": {
"x": {"field":"m","type":"quantitative","scale":{"domain":[5,5.8],"nice":false,"zero":false,"padding":0},"axis":{"values":[5,5.04,5.08,5.12,5.16,5.2,5.24,5.28,5.32,5.36,5.4,5.44,5.48,5.52,5.56,5.6,5.64,5.68,5.72,5.76,5.8],"format":"~g","labelExpr":"abs(datum.value*5-round(datum.value*5))<0.001 ? datum.label : ''","title":"Инвариантная масса K⁺π⁻ (ГэВ/c²)","titleAnchor":"end","titlePadding":3}},
"y": {"field":"v","type":"quantitative","stack":null,"scale":{"domain":[0,400],"nice":false,"padding":0},"axis":{"values":[0,10,20,30,40,50,60,70,80,90,100,110,120,130,140,150,160,170,180,190,200,210,220,230,240,250,260,270,280,290,300,310,320,330,340,350,360,370,380,390,400],"format":"d","labelExpr":"datum.value % 50 == 0 ? datum.label : ''","title":"События/(0,02 ГэВ/c²)","titleAnchor":"end","titlePadding":2,"minExtent":38,"maxExtent":38}}
},
"layer": [
{"data":{"name":"cur"},"transform":[{"filter":"datum.p=='c' && datum.c=='b0'"}],"mark":{"type":"area","interpolate":"monotone","stroke":"#111111","strokeWidth":0.6,"opacity":1,"clip":true,
 "fill":{"gradient":"linear","x1":0,"y1":0,"x2":0,"y2":1,"stops":[{"offset":0,"color":"#ffffff"},{"offset":0.7,"color":"#ffffff"},{"offset":0.703,"color":"#555555"},{"offset":0.706,"color":"#ffffff"},{"offset":0.709,"color":"#555555"},{"offset":0.712,"color":"#ffffff"},{"offset":0.715,"color":"#555555"},{"offset":0.718,"color":"#ffffff"},{"offset":0.721,"color":"#555555"},{"offset":0.724,"color":"#ffffff"},{"offset":0.727,"color":"#555555"},{"offset":0.73,"color":"#ffffff"},{"offset":0.733,"color":"#555555"},{"offset":0.736,"color":"#ffffff"},{"offset":0.739,"color":"#555555"},{"offset":0.742,"color":"#ffffff"},{"offset":0.745,"color":"#555555"},{"offset":0.748,"color":"#ffffff"},{"offset":0.751,"color":"#555555"},{"offset":0.754,"color":"#ffffff"},{"offset":0.757,"color":"#555555"},{"offset":0.76,"color":"#ffffff"},{"offset":0.763,"color":"#555555"},{"offset":0.766,"color":"#ffffff"},{"offset":0.769,"color":"#555555"},{"offset":0.772,"color":"#ffffff"},{"offset":0.775,"color":"#555555"},{"offset":0.778,"color":"#ffffff"},{"offset":0.781,"color":"#555555"},{"offset":0.784,"color":"#ffffff"},{"offset":0.787,"color":"#555555"},{"offset":0.79,"color":"#ffffff"},{"offset":0.793,"color":"#555555"},{"offset":0.796,"color":"#ffffff"},{"offset":0.799,"color":"#555555"},{"offset":0.802,"color":"#ffffff"},{"offset":0.805,"color":"#555555"},{"offset":0.808,"color":"#ffffff"},{"offset":0.811,"color":"#555555"},{"offset":0.814,"color":"#ffffff"},{"offset":0.817,"color":"#555555"},{"offset":0.82,"color":"#ffffff"},{"offset":0.823,"color":"#555555"},{"offset":0.826,"color":"#ffffff"},{"offset":0.829,"color":"#555555"},{"offset":0.832,"color":"#ffffff"},{"offset":0.835,"color":"#555555"},{"offset":0.838,"color":"#ffffff"},{"offset":0.841,"color":"#555555"},{"offset":0.844,"color":"#ffffff"},{"offset":0.847,"color":"#555555"},{"offset":0.85,"color":"#ffffff"},{"offset":0.853,"color":"#555555"},{"offset":0.856,"color":"#ffffff"},{"offset":0.859,"color":"#555555"},{"offset":0.862,"color":"#ffffff"},{"offset":0.865,"color":"#555555"},{"offset":0.868,"color":"#ffffff"},{"offset":0.871,"color":"#555555"},{"offset":0.874,"color":"#ffffff"},{"offset":0.877,"color":"#555555"},{"offset":0.88,"color":"#ffffff"},{"offset":0.883,"color":"#555555"},{"offset":0.886,"color":"#ffffff"},{"offset":0.889,"color":"#555555"},{"offset":0.892,"color":"#ffffff"},{"offset":0.895,"color":"#555555"},{"offset":0.898,"color":"#ffffff"},{"offset":0.901,"color":"#555555"},{"offset":0.904,"color":"#ffffff"},{"offset":0.907,"color":"#555555"},{"offset":0.91,"color":"#ffffff"},{"offset":0.913,"color":"#555555"},{"offset":0.916,"color":"#ffffff"},{"offset":0.919,"color":"#555555"},{"offset":0.922,"color":"#ffffff"},{"offset":0.925,"color":"#555555"},{"offset":0.928,"color":"#ffffff"},{"offset":0.931,"color":"#555555"},{"offset":0.934,"color":"#ffffff"},{"offset":0.937,"color":"#555555"},{"offset":0.94,"color":"#ffffff"},{"offset":0.943,"color":"#555555"},{"offset":0.946,"color":"#ffffff"},{"offset":0.949,"color":"#555555"},{"offset":0.952,"color":"#ffffff"},{"offset":0.955,"color":"#555555"},{"offset":0.958,"color":"#ffffff"},{"offset":0.961,"color":"#555555"},{"offset":0.964,"color":"#ffffff"},{"offset":0.967,"color":"#555555"},{"offset":0.97,"color":"#ffffff"},{"offset":0.973,"color":"#555555"},{"offset":0.976,"color":"#ffffff"},{"offset":0.979,"color":"#555555"},{"offset":0.982,"color":"#ffffff"},{"offset":0.985,"color":"#555555"},{"offset":0.988,"color":"#ffffff"},{"offset":0.991,"color":"#555555"},{"offset":0.994,"color":"#ffffff"},{"offset":0.997,"color":"#555555"},{"offset":1,"color":"#ffffff"}]}},"encoding":{}},
{"data":{"name":"cur"},"transform":[{"filter":"datum.p=='c' && (datum.c=='oth' || datum.c=='bs')"}],"mark":{"type":"area","interpolate":"monotone","stroke":"#111111","strokeWidth":0.6,"opacity":1,"clip":true},
 "encoding":{"fill":{"field":"c","type":"nominal","scale":{"domain":["b0","oth","bs"],"range":["#e2e2e2","#b4b4b4","#969696"]},"legend":{"orient":"none","legendX":415,"legendY":0,"title":null,"values":["b0","bs"],"labelExpr":"datum.value=='b0' ? 'B⁰→Kπ' : 'B⁰ₛ→Kπ'","symbolType":"M-1,-0.32H1V0.32H-1Z","symbolSize":961,"symbolStrokeColor":"#111111","symbolStrokeWidth":0.8,"labelFont":"DejaVu Sans","labelFontWeight":"bold","labelFontSize":13,"labelColor":"black","rowPadding":-14,"labelOffset":6,"padding":0}}}},
{"data":{"name":"cur"},"transform":[{"filter":"datum.p=='c' && (datum.c=='fit' || datum.c=='comb' || datum.c=='part')"}],"mark":{"type":"line","interpolate":"monotone","clip":true},
 "encoding":{"stroke":{"field":"c","type":"nominal","scale":{"domain":["fit","comb","part"],"range":["#0000dd","#1a1a1a","#333333"]},"legend":null},"strokeDash":{"field":"c","type":"nominal","scale":{"domain":["fit","comb","part"],"range":[[1,0],[6,2,1,2],[4,3]]},"legend":null},"strokeWidth":{"field":"c","type":"nominal","scale":{"domain":["fit","comb","part"],"range":[1.8,0.8,0.8]},"legend":null}}},
{"data":{"name":"pts"},"transform":[{"filter":"datum.p=='c'"}],"mark":{"type":"errorbar","color":"black","thickness":1,"clip":true},"encoding":{"yError":{"field":"e"}}},
{"data":{"name":"pts"},"transform":[{"filter":"datum.p=='c'"}],"mark":{"type":"tick","orient":"horizontal","color":"black","size":6,"thickness":1,"clip":true},"encoding":{}},
{"data":{"name":"pts"},"transform":[{"filter":"datum.p=='c'"}],"mark":{"type":"point","filled":true,"color":"black","size":14,"opacity":1,"clip":true},"encoding":{}},
{"data":{"name":"lab"},"transform":[{"filter":"datum.p=='c'"}],"mark":{"type":"text","font":"DejaVu Sans","fontWeight":"bold","fontSize":16,"color":"black"},"encoding":{"text":{"field":"t"}}}
]
},
{
"width": 237, "height": 160,
"encoding": {
"x": {"field":"m","type":"quantitative","scale":{"domain":[5,5.8],"nice":false,"zero":false,"padding":0},"axis":{"values":[5,5.04,5.08,5.12,5.16,5.2,5.24,5.28,5.32,5.36,5.4,5.44,5.48,5.52,5.56,5.6,5.64,5.68,5.72,5.76,5.8],"format":"~g","labelExpr":"abs(datum.value*5-round(datum.value*5))<0.001 ? datum.label : ''","title":"Инвариантная масса K⁻π⁺ (ГэВ/c²)","titleAnchor":"end","titlePadding":3}},
"y": {"field":"v","type":"quantitative","stack":null,"scale":{"domain":[0,400],"nice":false,"padding":0},"axis":{"values":[0,10,20,30,40,50,60,70,80,90,100,110,120,130,140,150,160,170,180,190,200,210,220,230,240,250,260,270,280,290,300,310,320,330,340,350,360,370,380,390,400],"format":"d","labelExpr":"datum.value % 50 == 0 ? datum.label : ''","title":null}}
},
"layer": [
{"data":{"name":"cur"},"transform":[{"filter":"datum.p=='d' && datum.c=='b0'"}],"mark":{"type":"area","interpolate":"monotone","stroke":"#111111","strokeWidth":0.6,"opacity":1,"clip":true,
 "fill":{"gradient":"linear","x1":0,"y1":0,"x2":0,"y2":1,"stops":[{"offset":0,"color":"#ffffff"},{"offset":0.7,"color":"#ffffff"},{"offset":0.703,"color":"#555555"},{"offset":0.706,"color":"#ffffff"},{"offset":0.709,"color":"#555555"},{"offset":0.712,"color":"#ffffff"},{"offset":0.715,"color":"#555555"},{"offset":0.718,"color":"#ffffff"},{"offset":0.721,"color":"#555555"},{"offset":0.724,"color":"#ffffff"},{"offset":0.727,"color":"#555555"},{"offset":0.73,"color":"#ffffff"},{"offset":0.733,"color":"#555555"},{"offset":0.736,"color":"#ffffff"},{"offset":0.739,"color":"#555555"},{"offset":0.742,"color":"#ffffff"},{"offset":0.745,"color":"#555555"},{"offset":0.748,"color":"#ffffff"},{"offset":0.751,"color":"#555555"},{"offset":0.754,"color":"#ffffff"},{"offset":0.757,"color":"#555555"},{"offset":0.76,"color":"#ffffff"},{"offset":0.763,"color":"#555555"},{"offset":0.766,"color":"#ffffff"},{"offset":0.769,"color":"#555555"},{"offset":0.772,"color":"#ffffff"},{"offset":0.775,"color":"#555555"},{"offset":0.778,"color":"#ffffff"},{"offset":0.781,"color":"#555555"},{"offset":0.784,"color":"#ffffff"},{"offset":0.787,"color":"#555555"},{"offset":0.79,"color":"#ffffff"},{"offset":0.793,"color":"#555555"},{"offset":0.796,"color":"#ffffff"},{"offset":0.799,"color":"#555555"},{"offset":0.802,"color":"#ffffff"},{"offset":0.805,"color":"#555555"},{"offset":0.808,"color":"#ffffff"},{"offset":0.811,"color":"#555555"},{"offset":0.814,"color":"#ffffff"},{"offset":0.817,"color":"#555555"},{"offset":0.82,"color":"#ffffff"},{"offset":0.823,"color":"#555555"},{"offset":0.826,"color":"#ffffff"},{"offset":0.829,"color":"#555555"},{"offset":0.832,"color":"#ffffff"},{"offset":0.835,"color":"#555555"},{"offset":0.838,"color":"#ffffff"},{"offset":0.841,"color":"#555555"},{"offset":0.844,"color":"#ffffff"},{"offset":0.847,"color":"#555555"},{"offset":0.85,"color":"#ffffff"},{"offset":0.853,"color":"#555555"},{"offset":0.856,"color":"#ffffff"},{"offset":0.859,"color":"#555555"},{"offset":0.862,"color":"#ffffff"},{"offset":0.865,"color":"#555555"},{"offset":0.868,"color":"#ffffff"},{"offset":0.871,"color":"#555555"},{"offset":0.874,"color":"#ffffff"},{"offset":0.877,"color":"#555555"},{"offset":0.88,"color":"#ffffff"},{"offset":0.883,"color":"#555555"},{"offset":0.886,"color":"#ffffff"},{"offset":0.889,"color":"#555555"},{"offset":0.892,"color":"#ffffff"},{"offset":0.895,"color":"#555555"},{"offset":0.898,"color":"#ffffff"},{"offset":0.901,"color":"#555555"},{"offset":0.904,"color":"#ffffff"},{"offset":0.907,"color":"#555555"},{"offset":0.91,"color":"#ffffff"},{"offset":0.913,"color":"#555555"},{"offset":0.916,"color":"#ffffff"},{"offset":0.919,"color":"#555555"},{"offset":0.922,"color":"#ffffff"},{"offset":0.925,"color":"#555555"},{"offset":0.928,"color":"#ffffff"},{"offset":0.931,"color":"#555555"},{"offset":0.934,"color":"#ffffff"},{"offset":0.937,"color":"#555555"},{"offset":0.94,"color":"#ffffff"},{"offset":0.943,"color":"#555555"},{"offset":0.946,"color":"#ffffff"},{"offset":0.949,"color":"#555555"},{"offset":0.952,"color":"#ffffff"},{"offset":0.955,"color":"#555555"},{"offset":0.958,"color":"#ffffff"},{"offset":0.961,"color":"#555555"},{"offset":0.964,"color":"#ffffff"},{"offset":0.967,"color":"#555555"},{"offset":0.97,"color":"#ffffff"},{"offset":0.973,"color":"#555555"},{"offset":0.976,"color":"#ffffff"},{"offset":0.979,"color":"#555555"},{"offset":0.982,"color":"#ffffff"},{"offset":0.985,"color":"#555555"},{"offset":0.988,"color":"#ffffff"},{"offset":0.991,"color":"#555555"},{"offset":0.994,"color":"#ffffff"},{"offset":0.997,"color":"#555555"},{"offset":1,"color":"#ffffff"}]}},"encoding":{}},
{"data":{"name":"cur"},"transform":[{"filter":"datum.p=='d' && (datum.c=='oth' || datum.c=='bs')"}],"mark":{"type":"area","interpolate":"monotone","stroke":"#111111","strokeWidth":0.6,"opacity":1,"clip":true},
 "encoding":{"fill":{"field":"c","type":"nominal","scale":{"domain":["b0","oth","bs"],"range":["#e2e2e2","#b4b4b4","#969696"]},"legend":{"orient":"none","legendX":415,"legendY":0,"title":null,"values":["b0","bs"],"labelExpr":"datum.value=='b0' ? 'B⁰→Kπ' : 'B⁰ₛ→Kπ'","symbolType":"M-1,-0.32H1V0.32H-1Z","symbolSize":961,"symbolStrokeColor":"#111111","symbolStrokeWidth":0.8,"labelFont":"DejaVu Sans","labelFontWeight":"bold","labelFontSize":13,"labelColor":"black","rowPadding":-14,"labelOffset":6,"padding":0}}}},
{"data":{"name":"cur"},"transform":[{"filter":"datum.p=='d' && (datum.c=='fit' || datum.c=='comb' || datum.c=='part')"}],"mark":{"type":"line","interpolate":"monotone","clip":true},
 "encoding":{"stroke":{"field":"c","type":"nominal","scale":{"domain":["fit","comb","part"],"range":["#0000dd","#1a1a1a","#333333"]},"legend":null},"strokeDash":{"field":"c","type":"nominal","scale":{"domain":["fit","comb","part"],"range":[[1,0],[6,2,1,2],[4,3]]},"legend":null},"strokeWidth":{"field":"c","type":"nominal","scale":{"domain":["fit","comb","part"],"range":[1.8,0.8,0.8]},"legend":null}}},
{"data":{"name":"pts"},"transform":[{"filter":"datum.p=='d'"}],"mark":{"type":"errorbar","color":"black","thickness":1,"clip":true},"encoding":{"yError":{"field":"e"}}},
{"data":{"name":"pts"},"transform":[{"filter":"datum.p=='d'"}],"mark":{"type":"tick","orient":"horizontal","color":"black","size":6,"thickness":1,"clip":true},"encoding":{}},
{"data":{"name":"pts"},"transform":[{"filter":"datum.p=='d'"}],"mark":{"type":"point","filled":true,"color":"black","size":14,"opacity":1,"clip":true},"encoding":{}},
{"data":{"name":"lab"},"transform":[{"filter":"datum.p=='d'"}],"mark":{"type":"text","font":"DejaVu Sans","fontWeight":"bold","fontSize":16,"color":"black"},"encoding":{"text":{"field":"t"}}}
]
}
],
"config": {
"view": {"stroke": "#8c8c8c", "strokeWidth": 1},
"axis": {"domain": false, "grid": false, "labelFlush": false, "labelFont": "DejaVu Sans", "labelFontWeight": "bold", "labelFontSize": 14, "labelColor": "black", "tickColor": "#555555", "titleFont": "DejaVu Sans", "titleFontWeight": "normal", "titleFontSize": 12, "titleColor": "#333333"},
"axisY": {"tickSize": -3, "labelPadding": 7},
"axisX": {"tickSize": -3, "labelPadding": 5}
}
}
